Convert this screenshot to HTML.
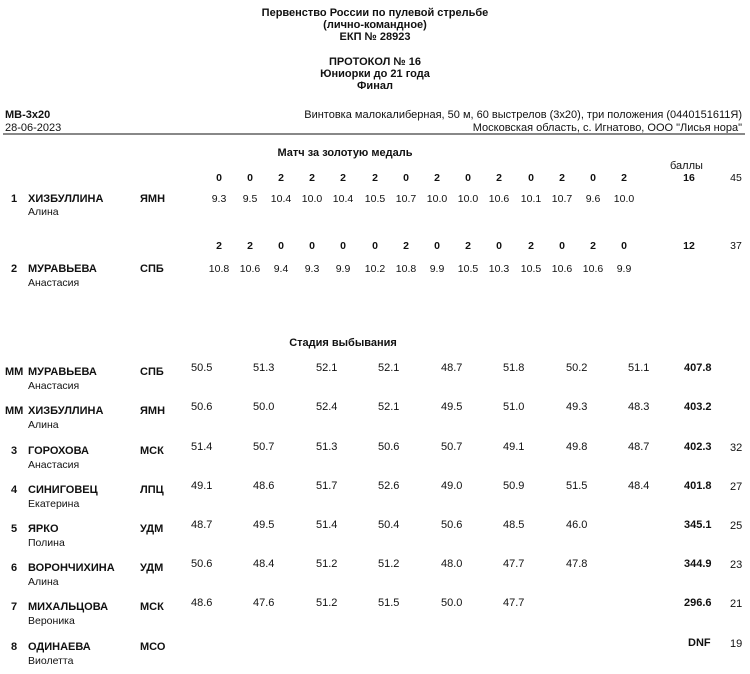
<!DOCTYPE html>
<html><head><meta charset="utf-8"><style>
body{margin:0;width:750px;height:674px;background:#fff;position:relative;font-family:"Liberation Sans","DejaVu Sans",sans-serif;font-size:11px;color:#111;overflow:hidden}
div{position:absolute;white-space:nowrap;line-height:12px}
.b{font-weight:bold}
.t{left:0;width:750px;text-align:center;font-weight:bold;font-size:11px}
.n{width:30px;text-align:center;font-size:10.5px}
.f{font-size:10.5px}
</style></head><body>
<div class="t" style="top:7px">Первенство России по пулевой стрельбе</div>
<div class="t" style="top:19px">(лично-командное)</div>
<div class="t" style="top:31px">ЕКП № 28923</div>
<div class="t" style="top:56px">ПРОТОКОЛ № 16</div>
<div class="t" style="top:68px">Юниорки до 21 года</div>
<div class="t" style="top:80px">Финал</div>
<div class="b" style="left:5px;top:109px">МВ-3x20</div>
<div style="left:5px;top:122px">28-06-2023</div>
<div style="right:8px;top:109px">Винтовка малокалиберная, 50 м, 60 выстрелов (3x20), три положения (0440151611Я)</div>
<div style="right:8px;top:122px">Московская область, с. Игнатово, ООО "Лисья нора"</div>
<div style="left:3px;top:133px;width:742px;height:2px;background:#888"></div>
<div class="b" style="left:260px;width:170px;text-align:center;top:147px">Матч за золотую медаль</div>
<div style="left:670px;top:160px">баллы</div>

<div class="b n" style="left:204px;top:172px">0</div><div class="b n" style="left:235px;top:172px">0</div><div class="b n" style="left:266px;top:172px">2</div><div class="b n" style="left:297px;top:172px">2</div><div class="b n" style="left:328px;top:172px">2</div><div class="b n" style="left:360px;top:172px">2</div><div class="b n" style="left:391px;top:172px">0</div><div class="b n" style="left:422px;top:172px">2</div><div class="b n" style="left:453px;top:172px">0</div><div class="b n" style="left:484px;top:172px">2</div><div class="b n" style="left:516px;top:172px">0</div><div class="b n" style="left:547px;top:172px">2</div><div class="b n" style="left:578px;top:172px">0</div><div class="b n" style="left:609px;top:172px">2</div>
<div class="b n" style="left:674px;top:172px">16</div><div class="n" style="left:721px;top:172px">45</div>
<div class="b" style="left:11px;top:193px">1</div><div class="b" style="left:28px;top:193px">ХИЗБУЛЛИНА</div><div class="b" style="left:140px;top:193px">ЯМН</div>
<div class="f" style="left:28px;top:206px">Алина</div>
<div class="n" style="left:204px;top:193px">9.3</div><div class="n" style="left:235px;top:193px">9.5</div><div class="n" style="left:266px;top:193px">10.4</div><div class="n" style="left:297px;top:193px">10.0</div><div class="n" style="left:328px;top:193px">10.4</div><div class="n" style="left:360px;top:193px">10.5</div><div class="n" style="left:391px;top:193px">10.7</div><div class="n" style="left:422px;top:193px">10.0</div><div class="n" style="left:453px;top:193px">10.0</div><div class="n" style="left:484px;top:193px">10.6</div><div class="n" style="left:516px;top:193px">10.1</div><div class="n" style="left:547px;top:193px">10.7</div><div class="n" style="left:578px;top:193px">9.6</div><div class="n" style="left:609px;top:193px">10.0</div>

<div class="b n" style="left:204px;top:240px">2</div><div class="b n" style="left:235px;top:240px">2</div><div class="b n" style="left:266px;top:240px">0</div><div class="b n" style="left:297px;top:240px">0</div><div class="b n" style="left:328px;top:240px">0</div><div class="b n" style="left:360px;top:240px">0</div><div class="b n" style="left:391px;top:240px">2</div><div class="b n" style="left:422px;top:240px">0</div><div class="b n" style="left:453px;top:240px">2</div><div class="b n" style="left:484px;top:240px">0</div><div class="b n" style="left:516px;top:240px">2</div><div class="b n" style="left:547px;top:240px">0</div><div class="b n" style="left:578px;top:240px">2</div><div class="b n" style="left:609px;top:240px">0</div>
<div class="b n" style="left:674px;top:240px">12</div><div class="n" style="left:721px;top:240px">37</div>
<div class="b" style="left:11px;top:263px">2</div><div class="b" style="left:28px;top:263px">МУРАВЬЕВА</div><div class="b" style="left:140px;top:263px">СПБ</div>
<div class="f" style="left:28px;top:277px">Анастасия</div>
<div class="n" style="left:204px;top:263px">10.8</div><div class="n" style="left:235px;top:263px">10.6</div><div class="n" style="left:266px;top:263px">9.4</div><div class="n" style="left:297px;top:263px">9.3</div><div class="n" style="left:328px;top:263px">9.9</div><div class="n" style="left:360px;top:263px">10.2</div><div class="n" style="left:391px;top:263px">10.8</div><div class="n" style="left:422px;top:263px">9.9</div><div class="n" style="left:453px;top:263px">10.5</div><div class="n" style="left:484px;top:263px">10.3</div><div class="n" style="left:516px;top:263px">10.5</div><div class="n" style="left:547px;top:263px">10.6</div><div class="n" style="left:578px;top:263px">10.6</div><div class="n" style="left:609px;top:263px">9.9</div>

<div class="b" style="left:258px;width:170px;text-align:center;top:337px">Стадия выбывания</div>

<div class="b" style="left:5px;top:366px">ММ</div><div class="b" style="left:28px;top:366px">МУРАВЬЕВА</div><div class="b" style="left:140px;top:366px">СПБ</div><div class="f" style="left:28px;top:380px">Анастасия</div>
<div style="left:191px;top:362px">50.5</div><div style="left:253px;top:362px">51.3</div><div style="left:316px;top:362px">52.1</div><div style="left:378px;top:362px">52.1</div><div style="left:441px;top:362px">48.7</div><div style="left:503px;top:362px">51.8</div><div style="left:566px;top:362px">50.2</div><div style="left:628px;top:362px">51.1</div><div class="b" style="left:684px;top:362px">407.8</div>

<div class="b" style="left:5px;top:405px">ММ</div><div class="b" style="left:28px;top:405px">ХИЗБУЛЛИНА</div><div class="b" style="left:140px;top:405px">ЯМН</div><div class="f" style="left:28px;top:419px">Алина</div>
<div style="left:191px;top:401px">50.6</div><div style="left:253px;top:401px">50.0</div><div style="left:316px;top:401px">52.4</div><div style="left:378px;top:401px">52.1</div><div style="left:441px;top:401px">49.5</div><div style="left:503px;top:401px">51.0</div><div style="left:566px;top:401px">49.3</div><div style="left:628px;top:401px">48.3</div><div class="b" style="left:684px;top:401px">403.2</div>

<div class="b" style="left:11px;top:445px">3</div><div class="b" style="left:28px;top:445px">ГОРОХОВА</div><div class="b" style="left:140px;top:445px">МСК</div><div class="f" style="left:28px;top:459px">Анастасия</div>
<div style="left:191px;top:441px">51.4</div><div style="left:253px;top:441px">50.7</div><div style="left:316px;top:441px">51.3</div><div style="left:378px;top:441px">50.6</div><div style="left:441px;top:441px">50.7</div><div style="left:503px;top:441px">49.1</div><div style="left:566px;top:441px">49.8</div><div style="left:628px;top:441px">48.7</div><div class="b" style="left:684px;top:441px">402.3</div><div style="left:730px;top:442px">32</div>

<div class="b" style="left:11px;top:484px">4</div><div class="b" style="left:28px;top:484px">СИНИГОВЕЦ</div><div class="b" style="left:140px;top:484px">ЛПЦ</div><div class="f" style="left:28px;top:498px">Екатерина</div>
<div style="left:191px;top:480px">49.1</div><div style="left:253px;top:480px">48.6</div><div style="left:316px;top:480px">51.7</div><div style="left:378px;top:480px">52.6</div><div style="left:441px;top:480px">49.0</div><div style="left:503px;top:480px">50.9</div><div style="left:566px;top:480px">51.5</div><div style="left:628px;top:480px">48.4</div><div class="b" style="left:684px;top:480px">401.8</div><div style="left:730px;top:481px">27</div>

<div class="b" style="left:11px;top:523px">5</div><div class="b" style="left:28px;top:523px">ЯРКО</div><div class="b" style="left:140px;top:523px">УДМ</div><div class="f" style="left:28px;top:537px">Полина</div>
<div style="left:191px;top:519px">48.7</div><div style="left:253px;top:519px">49.5</div><div style="left:316px;top:519px">51.4</div><div style="left:378px;top:519px">50.4</div><div style="left:441px;top:519px">50.6</div><div style="left:503px;top:519px">48.5</div><div style="left:566px;top:519px">46.0</div><div class="b" style="left:684px;top:519px">345.1</div><div style="left:730px;top:520px">25</div>

<div class="b" style="left:11px;top:562px">6</div><div class="b" style="left:28px;top:562px">ВОРОНЧИХИНА</div><div class="b" style="left:140px;top:562px">УДМ</div><div class="f" style="left:28px;top:576px">Алина</div>
<div style="left:191px;top:558px">50.6</div><div style="left:253px;top:558px">48.4</div><div style="left:316px;top:558px">51.2</div><div style="left:378px;top:558px">51.2</div><div style="left:441px;top:558px">48.0</div><div style="left:503px;top:558px">47.7</div><div style="left:566px;top:558px">47.8</div><div class="b" style="left:684px;top:558px">344.9</div><div style="left:730px;top:559px">23</div>

<div class="b" style="left:11px;top:601px">7</div><div class="b" style="left:28px;top:601px">МИХАЛЬЦОВА</div><div class="b" style="left:140px;top:601px">МСК</div><div class="f" style="left:28px;top:615px">Вероника</div>
<div style="left:191px;top:597px">48.6</div><div style="left:253px;top:597px">47.6</div><div style="left:316px;top:597px">51.2</div><div style="left:378px;top:597px">51.5</div><div style="left:441px;top:597px">50.0</div><div style="left:503px;top:597px">47.7</div><div class="b" style="left:684px;top:597px">296.6</div><div style="left:730px;top:598px">21</div>

<div class="b" style="left:11px;top:641px">8</div><div class="b" style="left:28px;top:641px">ОДИНАЕВА</div><div class="b" style="left:140px;top:641px">МСО</div><div class="f" style="left:28px;top:655px">Виолетта</div>
<div class="b" style="left:688px;top:637px">DNF</div><div style="left:730px;top:638px">19</div>
</body></html>
